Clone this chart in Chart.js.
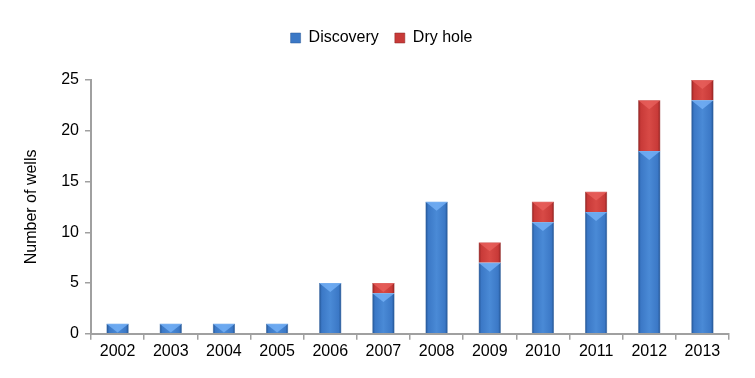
<!DOCTYPE html>
<html>
<head>
<meta charset="utf-8">
<script src="https://cdn.jsdelivr.net/npm/chart.js@4.4.0/dist/chart.umd.min.js"></script>
<style>
  html, body { margin: 0; padding: 0; background: #fff; }
  #wrap { width: 755px; height: 378px; }
</style>
</head>
<body>
<div id="wrap"><canvas id="wells"></canvas></div>
<script>
const years = ['2002', '2003', '2004', '2005', '2006', '2007', '2008', '2009', '2010', '2011', '2012', '2013'];
const discovery = [1, 1, 1, 1, 5, 4, 13, 7, 11, 12, 18, 23];
const dryHole = [0, 0, 0, 0, 0, 1, 0, 2, 2, 2, 5, 2];

const BLUE = '#3b78c6', RED = '#c83a38';

// horizontal shading so bars look like the bevelled office bars
function barFill(base, edge, mid) {
  return function (c) {
    const el = c.element;
    if (!el || el.x == null || el.width == null || isNaN(el.x)) return base;
    const x0 = el.x - el.width / 2;
    const g = c.chart.ctx.createLinearGradient(x0, 0, x0 + el.width, 0);
    g.addColorStop(0, edge);
    g.addColorStop(0.12, base);
    g.addColorStop(0.5, mid);
    g.addColorStop(0.88, base);
    g.addColorStop(1, edge);
    return g;
  };
}

// light chevron at the top of each segment
const bevel = {
  id: 'bevel',
  afterDatasetsDraw(chart) {
    const ctx = chart.ctx;
    const tops = ['rgba(120,180,250,0.75)', 'rgba(235,100,95,0.7)'];
    chart.data.datasets.forEach((ds, di) => {
      chart.getDatasetMeta(di).data.forEach((bar, i) => {
        if (!ds.data[i]) return;
        const half = bar.width / 2;
        const h = Math.min(Math.abs(bar.base - bar.y), half * 0.8);
        ctx.save();
        ctx.fillStyle = tops[di];
        ctx.beginPath();
        ctx.moveTo(bar.x - half, bar.y);
        ctx.lineTo(bar.x + half, bar.y);
        ctx.lineTo(bar.x, bar.y + h);
        ctx.closePath();
        ctx.fill();
        ctx.restore();
      });
    });
  }
};

// more room under the legend, and nudge it a little right
const legendSpace = {
  id: 'legendSpace',
  beforeInit(chart) {
    const fit = chart.legend.fit;
    chart.legend.fit = function () {
      fit.bind(chart.legend)();
      this.height += 24;
    };
  },
  afterLayout(chart) {
    chart.legend.left += 8;
    chart.legend.right += 8;
  }
};

Chart.defaults.font.family = '"Liberation Sans", Arial, sans-serif';
Chart.defaults.color = '#000';

const chart = new Chart(document.getElementById('wells'), {
  type: 'bar',
  data: {
    labels: years,
    datasets: [
      {
        label: 'Discovery',
        data: discovery,
        backgroundColor: barFill(BLUE, '#1f4f8c', '#4a8ad6'),
        borderColor: '#2a5a98',
        borderWidth: 0.5
      },
      {
        label: 'Dry hole',
        data: dryHole,
        backgroundColor: barFill(RED, '#8a1f1e', '#d84a46'),
        borderColor: '#8a2523',
        borderWidth: 0.5
      }
    ]
  },
  plugins: [bevel, legendSpace],
  options: {
    responsive: true,
    maintainAspectRatio: false,
    animation: false,
    categoryPercentage: 1,
    barPercentage: 0.42,
    layout: { padding: { top: 14, right: 26, left: 18, bottom: 15 } },
    plugins: {
      legend: {
        position: 'top',
        labels: {
          boxWidth: 10,
          boxHeight: 10,
          padding: 16,
          font: { size: 16 },
          generateLabels: function (ch) {
            return ch.data.datasets.map((ds, i) => ({
              text: ds.label,
              fillStyle: i === 0 ? BLUE : RED,
              strokeStyle: i === 0 ? '#2a5a98' : '#8a2523',
              lineWidth: 0.5,
              datasetIndex: i
            }));
          }
        }
      },
      tooltip: { enabled: false }
    },
    scales: {
      x: {
        stacked: true,
        offset: true,
        grid: {
          display: true,
          offset: true,
          drawOnChartArea: false,
          drawTicks: true,
          tickLength: 6,
          color: '#a0a0a0',
          lineWidth: 1.5
        },
        border: { color: '#a0a0a0', width: 2 },
        ticks: { font: { size: 16 }, padding: 2 }
      },
      y: {
        stacked: true,
        min: 0,
        max: 25,
        ticks: { stepSize: 5, font: { size: 16 }, padding: 6 },
        grid: {
          drawOnChartArea: false,
          drawTicks: true,
          tickLength: 6,
          color: '#a0a0a0',
          lineWidth: 1.5
        },
        border: { color: '#a0a0a0', width: 2 },
        title: {
          display: true,
          text: 'Number of wells',
          font: { size: 16 },
          padding: { bottom: 14 }
        }
      }
    }
  }
});
chart.update();
</script>
</body>
</html>
